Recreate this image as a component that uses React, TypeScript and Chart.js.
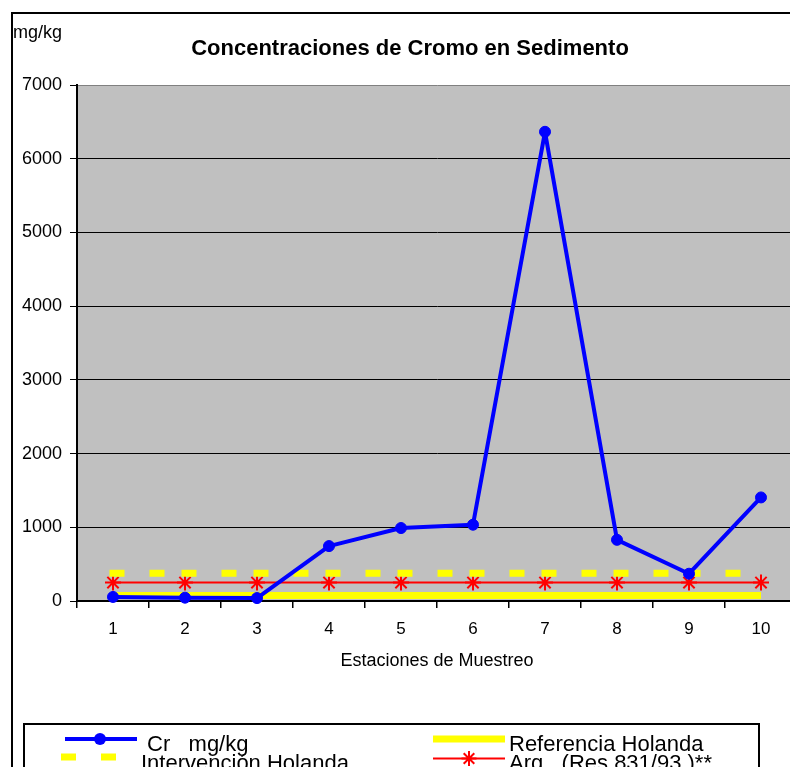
import React, { useEffect, useRef } from 'react';
import { Chart, registerables } from 'chart.js';

Chart.register(...registerables);

// ---- data ----
const stations = ['1', '2', '3', '4', '5', '6', '7', '8', '9', '10'];
const crValues = [55, 45, 40, 745, 990, 1035, 6365, 830, 370, 1405];
const referenciaHolanda = [75, 75, 75, 75, 75, 75, 75, 75, 75, 75];
const intervencionHolanda = [375, 375, 375, 375, 375, 375, 375, 375, 375, 375];
const argRes = [250, 250, 250, 250, 250, 250, 250, 250, 250, 250];
const yTickValues = [0, 1000, 2000, 3000, 4000, 5000, 6000, 7000];

const chartTitle = 'Concentraciones de Cromo en Sedimento';
const yUnitLabel = 'mg/kg';
const xAxisTitle = 'Estaciones de Muestreo';
const labelCr = 'Cr   mg/kg';
const labelReferencia = 'Referencia Holanda';
const labelIntervencion = 'Intervención Holanda';
const labelArg = 'Arg.  (Res 831/93 )**';

const FONT = "'Liberation Sans', Arial, Helvetica, sans-serif";
const BLUE = '#0000FF';
const YELLOW = '#FFFF00';
const RED = '#FF0000';

function drawStar(ctx: CanvasRenderingContext2D, x: number, y: number, r: number, color: string) {
  ctx.save();
  ctx.strokeStyle = color;
  ctx.lineWidth = 2;
  ctx.setLineDash([]);
  ctx.beginPath();
  ctx.moveTo(x - r, y); ctx.lineTo(x + r, y);
  ctx.moveTo(x, y - r); ctx.lineTo(x, y + r);
  const d = r * Math.SQRT1_2;
  ctx.moveTo(x - d, y - d); ctx.lineTo(x + d, y + d);
  ctx.moveTo(x - d, y + d); ctx.lineTo(x + d, y - d);
  ctx.stroke();
  ctx.restore();
}

const decorPlugin = {
  id: 'decor',
  beforeDraw(chart: any) {
    const { ctx, chartArea } = chart;
    ctx.save();
    ctx.fillStyle = '#FFFFFF';
    ctx.fillRect(0, 0, chart.width, chart.height);
    ctx.fillStyle = '#C0C0C0';
    ctx.fillRect(chartArea.left, chartArea.top, chartArea.right - chartArea.left, chartArea.bottom - chartArea.top);
    ctx.restore();
  },
  afterDraw(chart: any) {
    const { ctx } = chart;
    const ds = chart.data.datasets;
    ctx.save();
    // outer chart border
    ctx.strokeStyle = '#000';
    ctx.lineWidth = 2;
    ctx.setLineDash([]);
    ctx.strokeRect(12, 13, 840, 840);

    // title
    ctx.fillStyle = '#000';
    ctx.font = `bold 22px ${FONT}`;
    ctx.textAlign = 'center';
    ctx.textBaseline = 'alphabetic';
    ctx.fillText(chartTitle, 410, 55);

    // unit label
    ctx.font = `18px ${FONT}`;
    ctx.textAlign = 'left';
    ctx.fillText(yUnitLabel, 13, 38);

    // legend box
    ctx.lineWidth = 2;
    ctx.strokeStyle = '#000';
    ctx.strokeRect(24, 724, 735, 120);

    // Cr sample
    ctx.strokeStyle = ds[0].borderColor;
    ctx.lineWidth = 4;
    ctx.beginPath();
    ctx.moveTo(65, 739); ctx.lineTo(137, 739);
    ctx.stroke();
    ctx.fillStyle = ds[0].pointBackgroundColor;
    ctx.beginPath();
    ctx.arc(100, 739, 6, 0, Math.PI * 2);
    ctx.fill();

    // Referencia sample
    ctx.strokeStyle = ds[1].borderColor;
    ctx.lineWidth = 7;
    ctx.lineCap = 'butt';
    ctx.beginPath();
    ctx.moveTo(433, 739); ctx.lineTo(505, 739);
    ctx.stroke();

    // Intervencion sample
    ctx.strokeStyle = ds[2].borderColor;
    ctx.lineWidth = 7;
    ctx.setLineDash([15, 25]);
    ctx.beginPath();
    ctx.moveTo(61, 757); ctx.lineTo(116, 757);
    ctx.stroke();
    ctx.setLineDash([]);

    // Arg sample
    ctx.strokeStyle = ds[3].borderColor;
    ctx.lineWidth = 2;
    ctx.beginPath();
    ctx.moveTo(433, 758.5); ctx.lineTo(505, 758.5);
    ctx.stroke();
    drawStar(ctx, 469, 758.5, 7.5, ds[3].pointBorderColor);

    // legend texts
    ctx.fillStyle = '#000';
    ctx.font = `22px ${FONT}`;
    ctx.textAlign = 'left';
    ctx.textBaseline = 'alphabetic';
    ctx.fillText(ds[0].label, 147, 750.5);
    ctx.fillText(ds[1].label, 509, 750.5);
    ctx.fillText(ds[2].label, 141, 769.5);
    ctx.fillText(ds[3].label, 509, 769.5);
    ctx.restore();
  },
};

export default function App() {
  const canvasRef = useRef<HTMLCanvasElement | null>(null);

  useEffect(() => {
    if (!canvasRef.current) return;
    Chart.defaults.font.family = FONT;
    Chart.defaults.color = '#000';
    const chart = new Chart(canvasRef.current, {
      type: 'line',
      data: {
        labels: stations,
        datasets: [
          {
            label: labelCr,
            data: crValues,
            borderColor: BLUE,
            backgroundColor: BLUE,
            borderWidth: 4,
            borderJoinStyle: 'round',
            borderCapStyle: 'round',
            pointRadius: 5.5,
            pointBackgroundColor: BLUE,
            pointBorderColor: BLUE,
            pointBorderWidth: 1,
            tension: 0,
            fill: false,
            clip: 8,
          },
          {
            label: labelReferencia,
            data: referenciaHolanda,
            borderColor: YELLOW,
            backgroundColor: YELLOW,
            borderWidth: 7,
            borderCapStyle: 'butt',
            pointRadius: 0,
            tension: 0,
            fill: false,
          },
          {
            label: labelIntervencion,
            data: intervencionHolanda,
            borderColor: YELLOW,
            backgroundColor: YELLOW,
            borderWidth: 7,
            borderDash: [8, 32],
            borderCapStyle: 'square',
            pointRadius: 0,
            tension: 0,
            fill: false,
            segment: {
              borderDashOffset: (c: any) => (c.p0DataIndex % 2 ? 0.0001 : 0),
            },
          },
          {
            label: labelArg,
            data: argRes,
            borderColor: RED,
            backgroundColor: RED,
            borderWidth: 2,
            pointStyle: 'star',
            pointRadius: 8,
            pointBorderColor: RED,
            pointBackgroundColor: RED,
            pointBorderWidth: 2,
            tension: 0,
            fill: false,
            clip: 10,
          },
        ],
      } as any,
      options: {
        responsive: false,
        animation: false,
        devicePixelRatio: 1,
        layout: { padding: { top: 85, right: 33, bottom: 124, left: 0 } },
        plugins: {
          legend: { display: false },
          tooltip: { enabled: false },
          title: { display: false },
        },
        scales: {
          x: {
            type: 'category',
            offset: true,
            grid: {
              offset: true,
              drawOnChartArea: false,
              drawTicks: true,
              tickLength: 7,
              color: '#000',
              lineWidth: 1.5,
            },
            border: { display: true, color: '#000', width: 2 },
            ticks: { color: '#000', font: { size: 17 }, padding: 11, maxRotation: 0, autoSkip: false },
            title: { display: true, text: xAxisTitle, color: '#000', font: { size: 18 }, padding: { top: 4, bottom: 4 } },
            afterFit: (s: any) => { s.height = 75; },
          },
          y: {
            min: 0,
            max: 7000,
            afterBuildTicks: (s: any) => { s.ticks = yTickValues.map((v) => ({ value: v })); },
            grid: {
              color: (c: any) => (c.tick && c.tick.value === 7000 ? '#808080' : '#000'),
              tickColor: '#000',
              lineWidth: 1,
              tickLength: 7,
              drawTicks: true,
            },
            border: { display: true, color: '#000', width: 2 },
            ticks: {
              color: '#000',
              font: { size: 18 },
              padding: 8,
              callback: (v: any) => String(v),
            },
            afterFit: (s: any) => { s.width = 77; },
          },
        },
      } as any,
      plugins: [decorPlugin],
    });
    return () => chart.destroy();
  }, []);

  return (
    <div style={{ position: 'fixed', left: 0, top: 0, width: 790, height: 767, overflow: 'hidden', background: '#fff' }}>
      <canvas ref={canvasRef} width={830} height={800} style={{ width: 830, height: 800, display: 'block' }} />
    </div>
  );
}
